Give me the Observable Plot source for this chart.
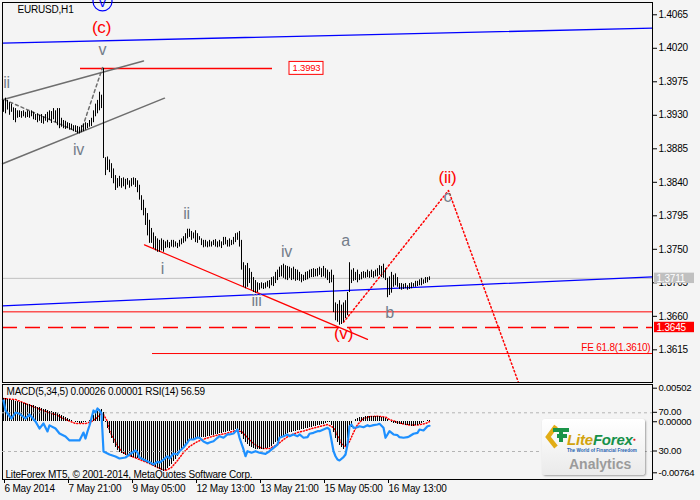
<!DOCTYPE html>
<html><head><meta charset="utf-8">
<script src="https://cdn.jsdelivr.net/npm/d3@7"></script>
<script src="https://cdn.jsdelivr.net/npm/@observablehq/plot@0.6"></script>
<style>
html,body{margin:0;padding:0;background:#f4f4f4;}
#wrap{position:relative;width:700px;height:500px;overflow:hidden;background:#f4f4f4;}
#main,#ind,#rsi{position:absolute;left:0;}
#main{top:0;} #ind{top:383px;} #rsi{top:383px;}
#wrap svg text{letter-spacing:-0.2px;}
#logo{position:absolute;left:542px;top:419px;width:103px;height:56px;border-radius:3px;
  background:linear-gradient(#ffffff,#eaeaea);box-shadow:1px 1px 2px rgba(0,0,0,0.35);font-family:"Liberation Sans",Arial,sans-serif;}
#logo .lf{position:absolute;left:25px;top:13px;font-size:15px;line-height:15px;font-weight:bold;font-style:italic;letter-spacing:-0.2px;}
#logo .tag{position:absolute;left:25px;top:29px;font-size:4.6px;line-height:5px;font-weight:bold;color:#1f62b0;white-space:nowrap;}
#logo .an{position:absolute;left:27px;top:37px;font-size:14px;line-height:16px;font-weight:bold;color:#9b9b9b;}
#logo sup{font-size:5px;color:#d22;font-style:normal;vertical-align:top;}
</style></head><body><div id="wrap">
<div id="main"></div><div id="ind"></div><div id="rsi"></div>
<div id="logo">
  <svg width="28" height="30" style="position:absolute;left:2px;top:2px">
    <path d="M12 5 L4 16 L12 26" fill="none" stroke="#e2ad16" stroke-width="4.5" stroke-linejoin="miter"/>
    <path d="M9 9 H25 M17 9 V21 M13 15 H23" fill="none" stroke="#1a9448" stroke-width="4"/>
  </svg>
  <div class="lf"><span style="color:#d2a20c">Lite</span><span style="color:#16914a">Forex</span><sup>●</sup></div>
  <div class="tag">The World of Financial Freedom</div>
  <div class="an">Analytics</div>
</div>
</div>
<script>
// ---------- DATA ----------
const highs = [
1.3950,1.3953,1.3950,1.3947,1.3945,1.3940,1.3939,1.3936,1.3936,1.3935,
1.3936,1.3934,1.3936,1.3935,1.3936,1.3934,1.3931,1.3932,1.3930,1.3931,
1.3928,1.3931,1.3934,1.3936,1.3935,1.3939,1.3936,1.3939,1.3939,1.3926,
1.3923,1.3922,1.3920,1.3919,1.3918,1.3916,1.3916,1.3915,1.3914,1.3916,
1.3918,1.3920,1.3919,1.3923,1.3926,1.3936,1.3945,1.3950,1.3961,1.3957,
1.3993,1.3873,1.3874,1.3870,1.3865,1.3858,1.3849,1.3845,1.3848,1.3845,
1.3846,1.3844,1.3845,1.3842,1.3845,1.3846,1.3845,1.3842,1.3836,1.3822,
1.3816,1.3805,1.3798,1.3789,1.3778,1.3772,1.3767,1.3764,1.3762,1.3764,
1.3762,1.3760,1.3762,1.3759,1.3762,1.3762,1.3760,1.3758,1.3762,1.3764,
1.3767,1.3771,1.3777,1.3777,1.3774,1.3772,1.3775,1.3771,1.3767,1.3764,
1.3762,1.3762,1.3760,1.3762,1.3760,1.3762,1.3763,1.3760,1.3762,1.3760,
1.3766,1.3766,1.3762,1.3764,1.3762,1.3766,1.3771,1.3772,1.3774,1.3762,
1.3732,1.3728,1.3731,1.3724,1.3719,1.3712,1.3708,1.3705,1.3704,1.3705,
1.3704,1.3705,1.3707,1.3708,1.3712,1.3713,1.3719,1.3722,1.3726,1.3728,
1.3730,1.3728,1.3727,1.3726,1.3724,1.3726,1.3723,1.3722,1.3719,1.3716,
1.3715,1.3719,1.3720,1.3722,1.3723,1.3724,1.3723,1.3724,1.3726,1.3724,
1.3727,1.3724,1.3722,1.3719,1.3722,1.3715,1.3678,1.3676,1.3681,1.3675,
1.3678,1.3681,1.3692,1.3732,1.3722,1.3724,1.3719,1.3722,1.3716,1.3719,
1.3720,1.3719,1.3722,1.3720,1.3722,1.3720,1.3722,1.3724,1.3728,1.3727,
1.3730,1.3724,1.3711,1.3713,1.3719,1.3715,1.3717,1.3712,1.3704,1.3704,
1.3703,1.3704,1.3701,1.3704,1.3705,1.3704,1.3707,1.3707,1.3709,1.3711,
1.3709,1.3712,1.3712,1.3713];
const lows = [
1.3934,1.3932,1.3937,1.3930,1.3934,1.3923,1.3920,1.3926,1.3927,1.3926,
1.3928,1.3926,1.3927,1.3926,1.3928,1.3924,1.3923,1.3920,1.3922,1.3919,
1.3918,1.3922,1.3920,1.3923,1.3919,1.3924,1.3920,1.3916,1.3912,1.3914,
1.3912,1.3911,1.3912,1.3910,1.3910,1.3908,1.3907,1.3905,1.3905,1.3907,
1.3908,1.3910,1.3912,1.3914,1.3915,1.3920,1.3928,1.3932,1.3936,1.3939,
1.3872,1.3849,1.3856,1.3853,1.3845,1.3838,1.3829,1.3832,1.3834,1.3832,
1.3834,1.3830,1.3836,1.3832,1.3834,1.3836,1.3833,1.3826,1.3816,1.3802,
1.3795,1.3782,1.3768,1.3758,1.3758,1.3751,1.3748,1.3746,1.3746,1.3748,
1.3746,1.3751,1.3752,1.3751,1.3753,1.3752,1.3753,1.3751,1.3753,1.3756,
1.3758,1.3760,1.3764,1.3766,1.3762,1.3764,1.3759,1.3758,1.3762,1.3755,
1.3752,1.3753,1.3752,1.3753,1.3753,1.3755,1.3753,1.3752,1.3753,1.3751,
1.3755,1.3756,1.3753,1.3753,1.3755,1.3756,1.3759,1.3762,1.3753,1.3722,
1.3699,1.3697,1.3699,1.3704,1.3695,1.3692,1.3691,1.3692,1.3695,1.3697,
1.3696,1.3697,1.3699,1.3697,1.3701,1.3700,1.3704,1.3708,1.3712,1.3713,
1.3711,1.3709,1.3708,1.3711,1.3708,1.3709,1.3707,1.3708,1.3707,1.3705,
1.3707,1.3708,1.3709,1.3711,1.3712,1.3712,1.3713,1.3713,1.3715,1.3712,
1.3713,1.3711,1.3708,1.3704,1.3705,1.3665,1.3654,1.3652,1.3648,1.3649,
1.3652,1.3657,1.3661,1.3692,1.3704,1.3707,1.3708,1.3705,1.3708,1.3709,
1.3711,1.3711,1.3712,1.3711,1.3712,1.3711,1.3713,1.3713,1.3715,1.3712,
1.3711,1.3708,1.3685,1.3688,1.3691,1.3699,1.3701,1.3699,1.3696,1.3695,
1.3696,1.3697,1.3695,1.3696,1.3697,1.3699,1.3699,1.3700,1.3701,1.3701,
1.3703,1.3704,1.3705,1.3708];
const macd = [
0.00347,0.00347,0.00332,0.00332,0.00317,0.00317,0.00302,0.00302,0.00287,0.00287,
0.00272,0.00272,0.00257,0.00257,0.00242,0.00242,0.00227,0.00212,0.00212,0.00197,
0.00183,0.00183,0.00168,0.00153,0.00153,0.00138,0.00138,0.00123,0.00108,0.00093,
0.00078,0.00063,0.00048,0.00033,0.00018,0.00003,-0.00012,-0.00012,-0.00027,-0.00027,
-0.00012,-0.00012,0.00003,0.00018,0.00048,0.00093,0.00123,0.00153,0.00183,0.00183,
0.00138,-0.00012,-0.00102,-0.00177,-0.00251,-0.00326,-0.00386,-0.00431,-0.00461,-0.00476,
-0.00491,-0.00506,-0.00521,-0.00521,-0.00536,-0.00536,-0.00551,-0.00551,-0.00565,-0.00580,
-0.00595,-0.00610,-0.00625,-0.00640,-0.00655,-0.00670,-0.00685,-0.00700,-0.00715,-0.00730,
-0.00745,-0.00730,-0.00700,-0.00670,-0.00640,-0.00595,-0.00565,-0.00521,-0.00476,-0.00431,
-0.00386,-0.00356,-0.00326,-0.00296,-0.00281,-0.00266,-0.00251,-0.00251,-0.00236,-0.00236,
-0.00236,-0.00236,-0.00221,-0.00221,-0.00206,-0.00206,-0.00191,-0.00191,-0.00177,-0.00177,
-0.00162,-0.00162,-0.00147,-0.00147,-0.00132,-0.00132,-0.00117,-0.00117,-0.00132,-0.00191,
-0.00266,-0.00311,-0.00341,-0.00371,-0.00386,-0.00401,-0.00416,-0.00416,-0.00416,-0.00416,
-0.00416,-0.00401,-0.00401,-0.00386,-0.00371,-0.00341,-0.00311,-0.00296,-0.00266,-0.00236,
-0.00221,-0.00191,-0.00177,-0.00162,-0.00162,-0.00147,-0.00147,-0.00132,-0.00132,-0.00117,
-0.00117,-0.00102,-0.00102,-0.00087,-0.00087,-0.00072,-0.00072,-0.00057,-0.00057,-0.00042,
-0.00042,-0.00027,-0.00012,-0.00012,-0.00057,-0.00162,-0.00251,-0.00311,-0.00356,-0.00386,
-0.00416,-0.00371,-0.00251,-0.00132,-0.00087,0.00003,0.00033,0.00048,0.00063,0.00063,
0.00063,0.00078,0.00078,0.00078,0.00078,0.00078,0.00078,0.00078,0.00078,0.00063,
0.00063,0.00048,0.00033,0.00003,-0.00012,-0.00027,-0.00027,-0.00042,-0.00042,-0.00042,
-0.00042,-0.00057,-0.00057,-0.00057,-0.00072,-0.00072,-0.00057,-0.00057,-0.00042,-0.00027,
-0.00012,0.00003,0.00018,0.00026];
const signalBars = [0,6,11,16,21,26,31,36,41,44,47,49,50,52,53,55,57,59,63,68,73,77,81,84,87,90,93,97,101,106,111,116,119,121,124,127,130,133,137,140,143,147,151,154,158,162,165,167,169,171,173,175,177,180,183,187,191,193,196,199,203,207,211,213];
const signalValues = [0.00347,0.00332,0.00272,0.00212,0.00153,0.00108,0.00033,-0.00027,-0.00027,0.00003,0.00063,0.00123,0.00108,0.00003,-0.00132,-0.00251,-0.00356,-0.00446,-0.00506,-0.00565,-0.00625,-0.00685,-0.00730,-0.00685,-0.00580,-0.00461,-0.00371,-0.00296,-0.00251,-0.00206,-0.00177,-0.00132,-0.00147,-0.00206,-0.00296,-0.00371,-0.00401,-0.00401,-0.00341,-0.00266,-0.00206,-0.00162,-0.00132,-0.00102,-0.00072,-0.00042,-0.00087,-0.00206,-0.00326,-0.00371,-0.00296,-0.00162,-0.00042,0.00048,0.00078,0.00082,0.00070,0.00033,0.00003,-0.00027,-0.00049,-0.00049,-0.00027,0.00001];
const rsiBars = [0,1,2,4,6,8,11,13,16,18,20,22,23,26,28,31,33,36,38,40,41,42,43,45,46,47,48,49,50,52,53,56,58,61,63,66,67,68,71,73,75,77,78,80,82,83,85,87,88,90,92,93,95,97,98,100,102,103,105,107,108,110,112,113,115,117,118,120,121,122,124,126,128,131,133,135,137,138,140,142,143,145,147,148,150,152,153,155,157,158,160,162,163,165,166,167,168,170,171,172,173,174,175,177,178,180,182,183,185,187,188,190,191,192,193,195,197,198,200,202,203,205,207,208,210,212,213];
const rsiValues = [82.7,72.4,69.3,64.1,70.3,69.0,64.1,68.3,61.0,53.8,59.0,50.7,57.0,53.8,48.6,45.5,41.4,41.4,41.4,49.6,43.4,50.7,56.9,72.4,70.3,74.5,72.4,69.3,30.0,27.9,26.9,24.8,22.8,23.8,26.9,31.0,28.9,23.8,20.7,19.0,16.6,19.4,18.6,21.7,25.1,22.8,27.9,26.9,30.3,34.1,39.3,42.4,42.4,44.5,44.2,40.3,38.3,39.3,40.6,44.2,45.8,44.2,47.6,47.6,48.6,52.7,44.2,32.1,25.1,30.3,28.7,30.3,28.7,27.6,30.3,33.8,37.2,44.2,45.8,47.6,45.8,47.6,45.8,47.6,44.2,44.8,48.3,49.3,51.0,51.0,52.7,54.5,52.7,30.3,25.1,21.7,20.7,24.1,26.9,37.2,56.1,57.9,54.5,55.1,56.1,55.1,57.2,56.1,57.2,57.9,58.6,54.5,44.2,47.6,51.0,47.6,46.9,44.8,44.2,44.8,45.8,48.3,49.3,52.7,51.7,56.1,56.59];

const priceTicks = [1.4065,1.4020,1.3975,1.3930,1.3885,1.3840,1.3795,1.3750,1.3705,1.3660,1.3615];
const macdTicks = [0.00502,0.00000,-0.00764];
const rsiTicks = [70,30];
const timeTickBars = [0,32,64,96,128,160,192];
const timeTickLabels = ["6 May 2014","7 May 21:00","9 May 05:00","12 May 13:00","13 May 21:00","15 May 05:00","16 May 13:00"];

// drawn objects (bar index, price)
const lastPrice = 1.3711;
const redLevel = 1.3666;
const dashedLevel = 1.3645;
const feLevel = 1.3610;
const feStartBar = 74.5;
const topLevel = 1.3993;
const topLevelBars = [38.5, 134.5];
const blueUpper = [[-0.5,1.4027],[324.5,1.4047]];
const blueLower = [[-0.5,1.3674],[324.5,1.3713]];
const channelUpper = [[-0.5,1.3951],[70,1.4003]];
const channelLower = [[-0.5,1.3865],[80.5,1.3953]];
const waveDash = [[0.5,1.3951],[38.5,1.3906],[49.5,1.3994]];
const redTrend = [[70.5,1.3756],[182,1.3629]];
const projection = [[170,1.3652],[222.5,1.3829],[259,1.3560]];
const waveLabels = ["ii","iv","v","i","ii","iii","iv","a","b","c"];
const waveBars = [1.5,37.5,49.5,79.5,91.5,126.5,141.5,171,193,222];
const wavePrices = [1.3973,1.3883,1.4018,1.3724,1.3797,1.3681,1.3746,1.3761,1.3665,1.3820];
const redLabels = ["(c)","(ii)","(v)"];
const redBars = [49,222,170];
const redPrices = [1.4048,1.3846,1.3637];
const circleLabel = {text:"v", bar:49.5, price:1.4083};

// ---------- BUILD ----------
const F = '"Liberation Sans",Arial,sans-serif';
const FS = 10;
const XD = [-0.5, 324.5];
const bars = highs.map((h,i)=>({i, high:h, low:lows[i]}));
const pt = a => ({x:a[0], y:a[1]});
const BOXH = 0.0007;
const axisBoxes = [{v:lastPrice, fill:"#c0c0c0"},{v:dashedLevel, fill:"#ff0000"}];
const waves = waveLabels.map((t,k)=>({t, x:waveBars[k], y:wavePrices[k]}));
const reds = redLabels.map((t,k)=>({t, x:redBars[k], y:redPrices[k]}));

const main = Plot.plot({
  width:700, height:383, marginLeft:2, marginRight:48, marginTop:2, marginBottom:1,
  style:{background:"transparent", fontFamily:F, fontSize:FS+"px", overflow:"visible", color:"black"},
  x:{domain:XD, axis:null},
  y:{domain:[1.35711,1.40815], axis:null},
  marks:[
    Plot.ruleY([lastPrice], {stroke:"#c0c0c0"}),
    Plot.ruleY([redLevel], {stroke:"#ff0000"}),
    Plot.ruleY([dashedLevel], {stroke:"#ff0000", strokeWidth:1.6, strokeDasharray:"15,8"}),
    Plot.ruleY([feLevel], {x1:feStartBar, x2:XD[1], stroke:"#ff0000"}),
    Plot.ruleY([topLevel], {x1:topLevelBars[0], x2:topLevelBars[1], stroke:"#ff0000", strokeWidth:1.5}),
    Plot.line(channelUpper.map(pt), {x:"x", y:"y", stroke:"#6e6e6e"}),
    Plot.line(channelLower.map(pt), {x:"x", y:"y", stroke:"#6e6e6e"}),
    Plot.line(waveDash.map(pt), {x:"x", y:"y", stroke:"#6e6e6e", strokeDasharray:"3,3"}),
    Plot.line(redTrend.map(pt), {x:"x", y:"y", stroke:"#ff0000", strokeWidth:1.2}),
    Plot.line(projection.map(pt), {x:"x", y:"y", stroke:"#ff0000", strokeDasharray:"1.5,2.5", clip:true}),
    Plot.line(blueUpper.map(pt), {x:"x", y:"y", stroke:"#0000ff", strokeWidth:1.3}),
    Plot.line(blueLower.map(pt), {x:"x", y:"y", stroke:"#0000ff", strokeWidth:1.3}),
    Plot.ruleX(bars, {x:"i", y1:"low", y2:"high", stroke:"black"}),
    Plot.frame({stroke:"black"}),
    Plot.axisY({anchor:"right", label:null, ticks:priceTicks, tickFormat:d=>d.toFixed(4), tickSize:4, tickPadding:2, fontSize:FS}),
    Plot.rect(axisBoxes, {x1:325.5, x2:345.5, y1:d=>d.v-BOXH, y2:d=>d.v+BOXH, fill:"fill"}),
    Plot.text(axisBoxes, {x:325.5, y:"v", text:d=>d.v.toFixed(4), fill:"white", textAnchor:"start", dx:2, fontSize:FS}),
    Plot.rect([topLevel], {x1:143, x2:160, y1:d=>d-0.00087, y2:d=>d+0.00087, fill:"white", stroke:"#ff0000"}),
    Plot.text([topLevel], {x:151.5, y:d=>d, text:d=>d.toFixed(4), fill:"#ff0000", fontSize:9.5}),
    Plot.text([feLevel], {x:XD[1], y:d=>d, text:d=>"FE 61.8(" + d.toFixed(4) + ")", fill:"#ff0000", textAnchor:"end", dx:-2, dy:-6, fontSize:FS}),
    Plot.text(["EURUSD,H1"], {frameAnchor:"top-left", dx:15, dy:3, fontSize:FS, fill:"black"}),
    Plot.text(waves, {x:"x", y:"y", text:"t", fill:"#737d8a", fontSize:16}),
    Plot.text(reds, {x:"x", y:"y", text:"t", fill:"#ff0000", fontSize:17}),
    Plot.dot([circleLabel], {x:"bar", y:"price", r:9.5, stroke:"#0000ff", strokeWidth:1.2}),
    Plot.text([circleLabel], {x:"bar", y:"price", text:"text", fill:"#0000ff", fontSize:13, dy:1})
  ]
});
document.getElementById("main").append(main);

const macdData = macd.map((v,i)=>({i, v}));
const sigData = signalBars.map((b,k)=>({i:b, v:signalValues[k]}));
const rsiData = rsiBars.map((b,k)=>({i:b, v:rsiValues[k]}));
const tickMap = new Map(timeTickBars.map((b,k)=>[b, timeTickLabels[k]]));
const IND = {width:700, height:117, marginLeft:2, marginRight:48, marginTop:1, marginBottom:21};

const ind = Plot.plot({
  ...IND,
  style:{background:"transparent", fontFamily:F, fontSize:FS+"px", overflow:"visible", color:"black"},
  x:{domain:XD, axis:null},
  y:{domain:[-0.008642, 0.005573], axis:null},
  marks:[
    Plot.line(sigData, {x:"i", y:"v", stroke:"#ff0000", strokeDasharray:"1,2"}),
    Plot.ruleX(macdData, {x:"i", y1:0, y2:"v", stroke:"#000000", strokeWidth:1, shapeRendering:"crispEdges"}),
    Plot.frame({stroke:"black"}),
    Plot.axisY({anchor:"right", label:null, ticks:macdTicks, tickFormat:d=>d.toFixed(5), tickSize:4, tickPadding:2, fontSize:9.5}),
    Plot.axisX({label:null, ticks:timeTickBars, tickFormat:d=>tickMap.get(d), tickSize:4, tickPadding:1, textAnchor:"start", dx:1, fontSize:FS}),
    Plot.text(["MACD(5,34,5) 0.00026 0.00001 RSI(14) 56.59"], {frameAnchor:"top-left", dx:4, dy:3, fontSize:FS, fill:"black"}),
    Plot.text(["LiteForex MT5, © 2001-2014, MetaQuotes Software Corp."], {frameAnchor:"bottom-left", dx:3, dy:-2, fontSize:FS, fill:"black"})
  ]
});
document.getElementById("ind").append(ind);

const rsi = Plot.plot({
  ...IND,
  style:{background:"transparent", fontFamily:F, fontSize:FS+"px", overflow:"visible", color:"black"},
  x:{domain:XD, axis:null},
  y:{domain:[1.06, 99.25], axis:null},
  marks:[
    Plot.ruleY(rsiTicks, {stroke:"#b4b4b4", strokeDasharray:"3,3"}),
    Plot.line(rsiData, {x:"i", y:"v", stroke:"#1e90ff", strokeWidth:2.2}),
    Plot.axisY({anchor:"right", label:null, ticks:rsiTicks, tickFormat:d=>d.toFixed(2), tickSize:4, tickPadding:2, fontSize:9.5, dy:-0.5})
  ]
});
document.getElementById("rsi").append(rsi);
</script>
</body></html>
